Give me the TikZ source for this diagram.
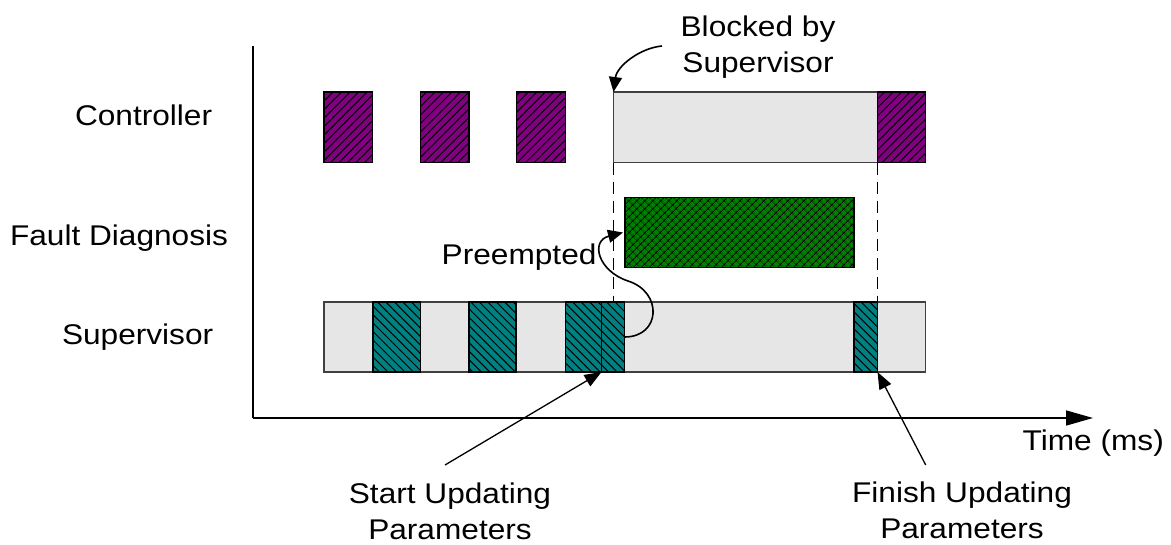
\documentclass[tikz,border=0pt]{standalone}
\usepackage{fontspec}
\setmainfont[FakeStretch=1.11]{Liberation Sans}
\usetikzlibrary{arrows.meta,patterns.meta}
\definecolor{cpurple}{RGB}{128,0,128}
\definecolor{cteal}{RGB}{0,128,128}
\definecolor{cgreen}{RGB}{0,128,0}
\definecolor{cgray}{RGB}{230,230,230}
\definecolor{cborder}{RGB}{64,64,64}
\begin{document}
\begin{tikzpicture}[x=1pt,y=-1pt,
  box/.style={draw=black, line width=1.6pt, inner sep=0pt, outer sep=0pt, anchor=north west},
  idle/.style={box, draw=cborder, fill=cgray},
  ctrl/.style={box, preaction={fill=cpurple}, pattern={Lines[angle=45,distance=6pt,line width=1pt]}, pattern color=black},
  sup/.style={box, preaction={fill=cteal}, pattern={Lines[angle=-45,distance=6pt,line width=1pt]}, pattern color=black},
  fd/.style={box, preaction={fill=cgreen}, pattern={Hatch[angle=45,distance=5.4pt,line width=0.9pt]}, pattern color=black},
  lbl/.style={inner sep=0pt, outer sep=0pt, font=\fontsize{28.5}{36}\selectfont},
  guide/.style={line width=1.5pt, dash pattern=on 12pt off 7pt},
  axis/.style={line width=1.6pt},
  callout/.style={line width=1.6pt, -{Triangle[length=15pt,width=13pt]}},
  pointer/.style={line width=1.3pt, -{Triangle[length=17pt,width=13pt]}}
]
\useasboundingbox (0,0) rectangle (1171,544);

% axes
\coordinate (ytop) at (253,46);
\coordinate (orig) at (253,418);
\coordinate (xend) at (1093,418);
\draw[axis] (ytop) -- (orig);
\draw[axis, -{Triangle[length=27pt,width=15pt]}] (orig) -- (xend);

% row labels
\node[lbl, anchor=base west] (lc) at (75,125.5) {Controller};
\node[lbl, anchor=base west] (lf) at (10,245) {Fault Diagnosis};
\node[lbl, anchor=base west] (ls) at (62,344) {Supervisor};
\node[lbl, anchor=base west] (lt) at (1022.7,450) {Time (ms)};

% controller row
\node[ctrl, minimum width=48.5pt, minimum height=70.5pt] (c1) at (324,92) {};
\node[ctrl, minimum width=48.5pt, minimum height=70.5pt] (c2) at (420.5,92) {};
\node[ctrl, minimum width=49pt, minimum height=70.5pt] (c3) at (516.5,92) {};
\node[idle, minimum width=264pt, minimum height=70.5pt] (cg) at (613.5,92) {};
\node[ctrl, minimum width=48pt, minimum height=70.5pt] (c4) at (877.5,92) {};

% fault diagnosis row
\node[fd, minimum width=229pt, minimum height=70pt] (f1) at (625,197.5) {};

% supervisor row
\node[idle, minimum width=601.5pt, minimum height=70pt] (sb) at (324,302) {};
\node[sup, minimum width=47.5pt, minimum height=70pt] (s1) at (373,302) {};
\node[sup, minimum width=47pt, minimum height=70pt] (s2) at (469,302) {};
\node[sup, minimum width=36pt, minimum height=70pt] (s3a) at (565.5,302) {};
\node[sup, minimum width=23pt, minimum height=70pt] (s3b) at (601.5,302) {};
\node[sup, minimum width=23.5pt, minimum height=70pt] (s4) at (854,302) {};

% dashed guides
\coordinate (g1) at (613.5,302);
\draw[guide] (cg.south west) -- (g1);
\draw[guide] (cg.south east) -- (s4.north east);

% Blocked by Supervisor
\node[lbl, align=center, anchor=base] (lb) at (758,72) {Blocked by\\Supervisor};
\coordinate (b0) at (662,46);
\draw[callout] (b0) .. controls (640,48) and (617,66) .. (cg.north west);

% Preempted
\node[lbl, anchor=base west] (lp) at (441.7,264) {Preempted};
\coordinate (p1) at (628,281);
\coordinate (p2) at (623,232.5);
\draw[callout] (s3b.east) .. controls (661,337) and (663,292) .. (p1) .. controls (598,271) and (590,241) .. (p2);

% start / finish updating
\node[lbl, align=center, anchor=base] (lsu) at (450,539) {Start Updating\\Parameters};
\node[lbl, align=center, anchor=base] (lfu) at (962,538) {Finish Updating\\Parameters};
\coordinate (a1) at (445,465);
\coordinate (a2) at (925.7,465);
\draw[pointer] (a1) -- (s3a.south east);
\draw[pointer] (a2) -- (s4.south east);
\end{tikzpicture}
\end{document}
